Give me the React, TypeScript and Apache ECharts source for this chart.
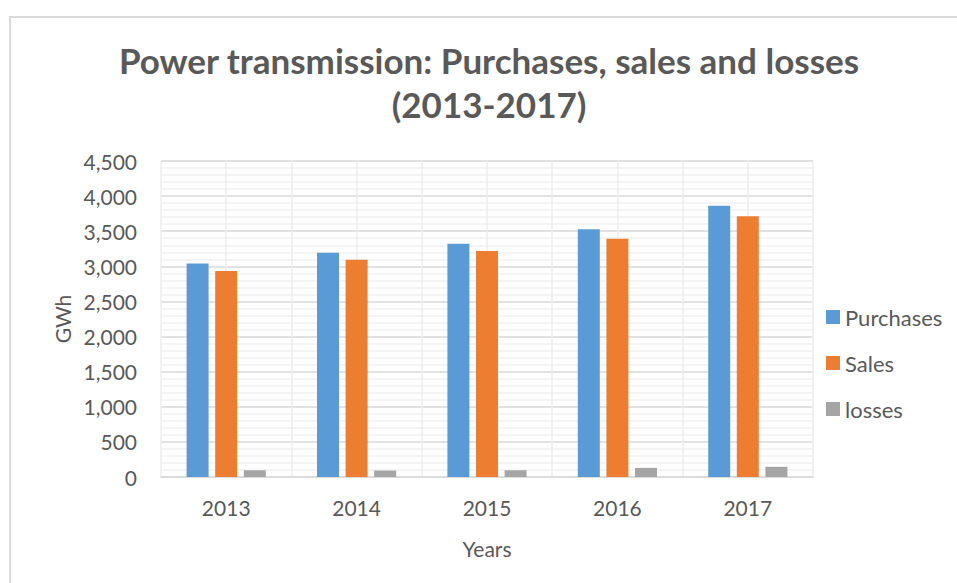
import React, { useEffect, useRef } from "react";
import * as echarts from "echarts";

const titleText = "Power transmission: Purchases, sales and losses\n(2013-2017)";
const years = ["2013", "2014", "2015", "2016", "2017"];
const purchases = [3040, 3195, 3322, 3528, 3862];
const sales = [2935, 3095, 3218, 3392, 3713];
const losses = [97, 92, 96, 130, 145];
const seriesNames = ["Purchases", "Sales", "losses"];
const seriesColors = ["#5B9BD5", "#ED7D31", "#A5A5A5"];
const yAxisName = "GWh";
const xAxisName = "Years";

const FONT = "Lato";
const TEXT = "#595959";

export default function App() {
  const ref = useRef<HTMLDivElement>(null);
  useEffect(() => {
    if (!ref.current) return;
    const chart = echarts.init(ref.current, null, { renderer: "svg" });
    const values = [purchases, sales, losses];
    chart.setOption({
      animation: false,
      backgroundColor: "#ffffff",
      textStyle: { fontFamily: FONT },
      title: {
        text: titleText,
        left: 489,
        textAlign: "center",
        top: 38,
        padding: 0,
        textStyle: {
          fontFamily: FONT,
          fontSize: 35,
          fontWeight: "bold",
          color: TEXT,
          lineHeight: 44,
        },
      },
      graphic: [
        {
          type: "rect",
          shape: { x: 10, y: 17, width: 2000, height: 2000 },
          style: { fill: "none", stroke: "#d9d9d9", lineWidth: 2 },
          silent: true,
        },
      ],
      legend: {
        orient: "vertical",
        left: 826,
        top: 306,
        padding: 0,
        itemWidth: 14,
        itemHeight: 14,
        itemGap: 24,
        icon: "rect",
        textStyle: { fontFamily: FONT, fontSize: 22, color: TEXT },
        data: seriesNames,
      },
      grid: { left: 161, top: 161, right: 144, bottom: 106, containLabel: false },
      xAxis: [
        {
          type: "category",
          data: years,
          name: xAxisName,
          nameLocation: "middle",
          nameGap: 61,
          nameTextStyle: { fontFamily: FONT, fontSize: 21, color: TEXT },
          axisLine: { show: true, lineStyle: { color: "#d9d9d9", width: 1.5 } },
          axisTick: { show: false },
          axisLabel: { fontFamily: FONT, fontSize: 21, color: TEXT, margin: 20 },
          splitLine: { show: false },
        },
        {
          type: "value",
          min: 0,
          max: 10,
          interval: 1,
          show: true,
          position: "top",
          axisLine: { show: false },
          axisTick: { show: false },
          axisLabel: { show: false },
          splitLine: { show: true, lineStyle: { color: "#ededed", width: 1.5 } },
        },
      ],
      yAxis: {
        type: "value",
        min: 0,
        max: 4500,
        interval: 500,
        name: yAxisName,
        nameLocation: "middle",
        nameGap: 88,
        nameRotate: 90,
        nameTextStyle: { fontFamily: FONT, fontSize: 21, color: TEXT },
        axisLine: { show: false },
        axisTick: { show: false },
        axisLabel: {
          fontFamily: FONT,
          fontSize: 21,
          color: TEXT,
          margin: 24,
          formatter: (v: number) => v.toLocaleString("en-US"),
        },
        splitLine: { show: true, lineStyle: { color: "#d9d9d9", width: 1.5 } },
        minorTick: { show: false, splitNumber: 5 },
        minorSplitLine: { show: true, lineStyle: { color: "#f0f0f0", width: 1.5 } },
      },
      series: seriesNames.map((name, i) => ({
        name,
        type: "bar",
        xAxisIndex: 0,
        data: values[i],
        barWidth: 22,
        barGap: "30%",
        itemStyle: { color: seriesColors[i] },
        z: 3,
      })),
    });
    return () => chart.dispose();
  }, []);
  return (
    <div
      ref={ref}
      style={{ position: "fixed", left: 0, top: 0, width: 957, height: 583 }}
    />
  );
}
